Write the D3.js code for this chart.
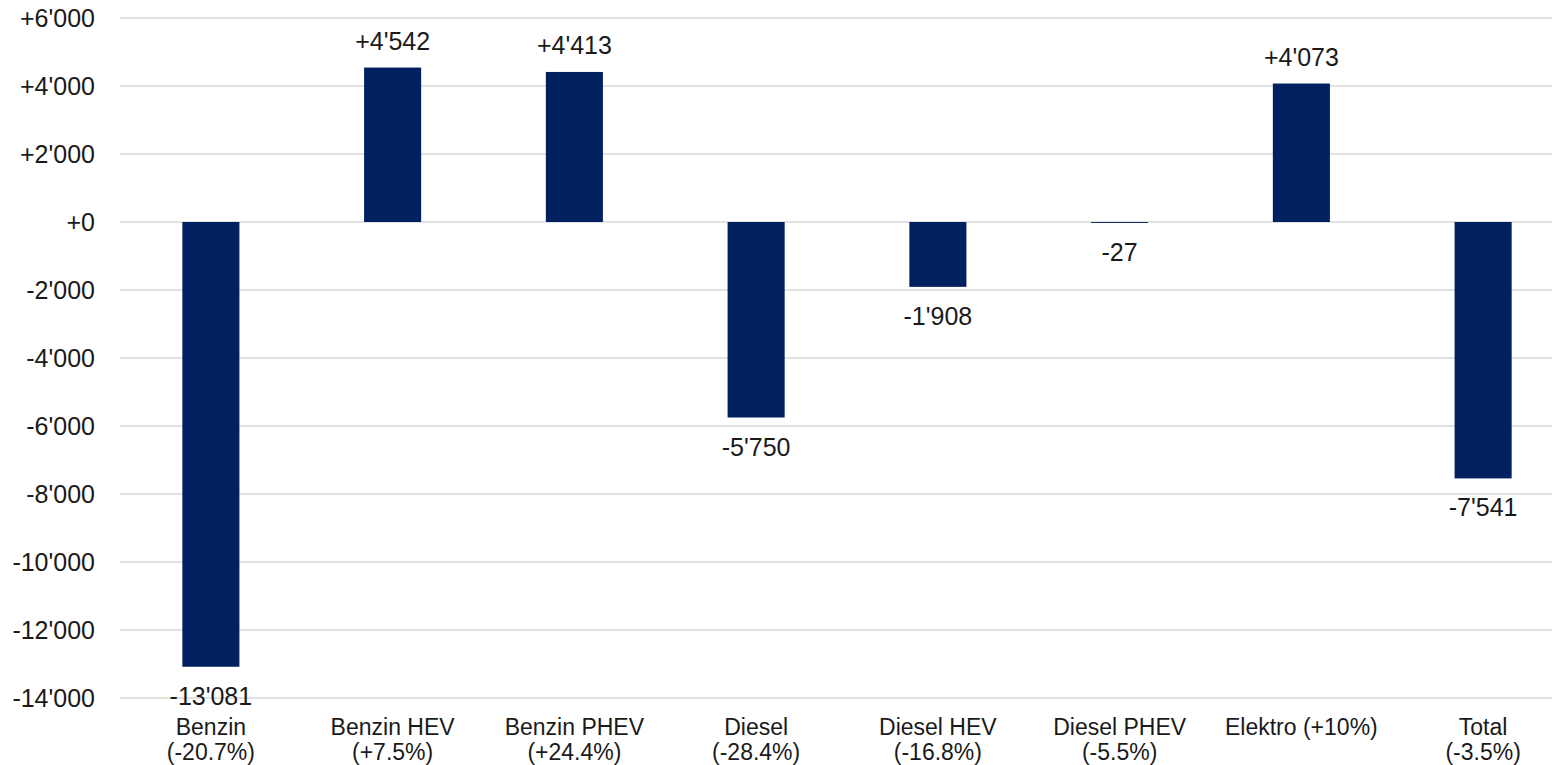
<!DOCTYPE html>
<html>
<head>
<meta charset="utf-8">
<script src="https://cdn.jsdelivr.net/npm/d3@7"></script>
<style>
  html, body { margin: 0; padding: 0; background: #fff; }
  svg { display: block; }
  text { font-family: "Liberation Sans", Arial, sans-serif; fill: #1a1a1a; }
</style>
</head>
<body>
<svg id="chart" width="1552" height="765"></svg>
<script>
// ---- data ----
const categories = ["Benzin", "Benzin HEV", "Benzin PHEV", "Diesel", "Diesel HEV", "Diesel PHEV", "Elektro", "Total"];
const shares = ["-20.7%", "+7.5%", "+24.4%", "-28.4%", "-16.8%", "-5.5%", "+10%", "-3.5%"];
const values = [-13081, 4542, 4413, -5750, -1908, -27, 4073, -7541];
const yTicks = [6000, 4000, 2000, 0, -2000, -4000, -6000, -8000, -10000, -12000, -14000];
// categories whose label stays on one line
const singleLine = ["Elektro"];

// ---- setup ----
const svg = d3.select("#chart");
const mLeft = 120, mRight = 1574, mTop = 18, mBottom = 698;

const locale = d3.formatLocale({ decimal: ".", thousands: "'", grouping: [3], currency: ["", ""], minus: "-" });
const fmt = locale.format("+,");

const x = d3.scaleBand().domain(categories).range([mLeft, mRight]).paddingInner(0.686).paddingOuter(0.343);
const y = d3.scaleLinear().domain([-14000, 6000]).range([mBottom, mTop]);

// gridlines
svg.append("g").selectAll("line").data(yTicks).join("line")
  .attr("x1", mLeft).attr("x2", mRight)
  .attr("y1", d => y(d)).attr("y2", d => y(d))
  .attr("stroke", "#d9d9d9").attr("stroke-width", 1.5);

// y axis labels
const yAxis = d3.axisLeft(y).tickValues(yTicks).tickFormat(fmt).tickSize(0).tickPadding(25);
const gy = svg.append("g").attr("transform", `translate(${mLeft},0)`).call(yAxis);
gy.select(".domain").remove();
gy.selectAll("text").attr("font-size", 25).attr("fill", "#1a1a1a")
  .style("font-family", '"Liberation Sans", Arial, sans-serif');

// bars
svg.append("g").selectAll("rect").data(values).join("rect")
  .attr("x", (d, i) => x(categories[i]))
  .attr("width", x.bandwidth())
  .attr("y", d => Math.min(y(d), y(0)))
  .attr("height", d => Math.abs(y(d) - y(0)))
  .attr("fill", "#002060");

// value labels
svg.append("g").selectAll("text").data(values).join("text")
  .attr("x", (d, i) => x(categories[i]) + x.bandwidth() / 2)
  .attr("y", d => d >= 0 ? y(d) - 18 : y(d) + 38)
  .attr("text-anchor", "middle")
  .attr("font-size", 25)
  .text(d => fmt(d));

// category labels
const gx = svg.append("g");
categories.forEach((c, i) => {
  const cx = x(c) + x.bandwidth() / 2;
  const lines = singleLine.includes(c) ? [`${c} (${shares[i]})`] : [c, `(${shares[i]})`];
  const t = gx.append("text").attr("text-anchor", "middle").attr("font-size", 23);
  lines.forEach((l, j) => {
    t.append("tspan").attr("x", cx).attr("y", mBottom + 37 + j * 25).text(l);
  });
});
</script>
</body>
</html>
